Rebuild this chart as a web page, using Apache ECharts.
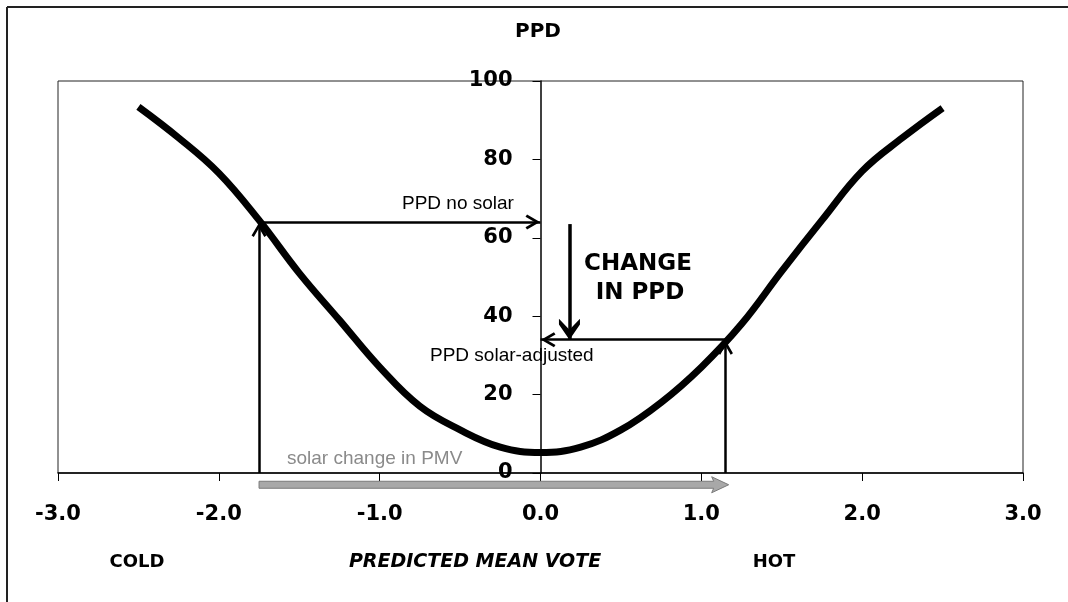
<!DOCTYPE html>
<html>
<head>
<meta charset="utf-8">
<script src="https://cdn.jsdelivr.net/npm/echarts@6/dist/echarts.min.js"></script>
<style>
  html, body { margin: 0; padding: 0; background: #fff; }
  #main { width: 1068px; height: 602px; }
</style>
</head>
<body>
<div id="main"></div>
<script>
// PMV -> PPD curve
var pmv = [-2.5, -2.25, -2, -1.75, -1.5, -1.25, -1, -0.75, -0.5, -0.25, 0, 0.25, 0.5, 0.75, 1, 1.25, 1.5, 1.75, 2, 2.25, 2.5];
var ppd = [93.4, 85.5, 76.5, 64.5, 51, 39, 27, 17, 11, 6.6, 5.2, 6.6, 11, 18, 27, 38, 51.5, 64.5, 77, 85.5, 93.1];

// annotation points [pmv, ppd]
var noSolar = [-1.75, 64];
var adjusted = [1.15, 34];
var changeArrow = [0.18, 63.5, 34];   // x, from, to
var solarShift = [-1.75, 1.17, -3];   // from x, to x, y (just below the axis)

var xTicks = { min: -3, max: 3, interval: 1 };
var yTicks = { min: 0, max: 100, interval: 20 };

var gridBox = { left: 58, right: 45, top: 81, bottom: 129 };
var plotWidth = 1068 - gridBox.left - gridBox.right;

var myChart = echarts.init(document.getElementById('main'));

// open V arrow heads, tip at the symbol centre
var openHead = 'path://M6,0 L12,10 L10.2,11.2 L6,4.2 L1.8,11.2 L0,10 Z M5.99,-12 L6.01,-12 L6,-11.99 Z';
var boldHead = 'path://M6,0 L12,9 L12,12.5 L6,6 L0,12.5 L0,9 Z M5.99,-12.5 L6.01,-12.5 L6,-12.49 Z';

function arrow(p1, p2, width, head, headSize) {
    return [
        { coord: p1, symbol: 'none', lineStyle: { width: width, color: '#000', type: 'solid' } },
        { coord: p2, symbol: head, symbolSize: headSize }
    ];
}

function label(id, x, y, text, font, color, align) {
    return { type: 'text', id: id, x: x, y: y, style: { text: text, fill: color || '#000', font: font, textAlign: align || 'center', textVerticalAlign: 'middle' } };
}

var curveData = pmv.map(function (v, i) { return [v, ppd[i]]; });

var baseFont = { color: '#000', fontFamily: 'DejaVu Sans', fontWeight: 'bold', fontSize: 21 };

var option = {
    backgroundColor: '#fff',
    animation: false,
    grid: {
        left: gridBox.left, right: gridBox.right, top: gridBox.top, bottom: gridBox.bottom,
        outerBoundsMode: 'none',
        containLabel: false,
        show: true,
        borderColor: '#222',
        borderWidth: 1
    },
    xAxis: {
        type: 'value',
        min: xTicks.min, max: xTicks.max, interval: xTicks.interval,
        axisLine: { onZero: false, lineStyle: { color: '#000', width: 1.5 } },
        axisTick: { show: true, length: 8, lineStyle: { color: '#000' } },
        splitLine: { show: false },
        axisLabel: Object.assign({ margin: 31, formatter: function (v) { return v.toFixed(1); } }, baseFont)
    },
    yAxis: {
        type: 'value',
        position: 'left',
        offset: -plotWidth / 2,   // axis sits on PMV = 0
        min: yTicks.min, max: yTicks.max, interval: yTicks.interval,
        axisLine: { show: true, onZero: false, lineStyle: { color: '#000', width: 1.5 } },
        axisTick: { show: true, length: 8, lineStyle: { color: '#000' } },
        splitLine: { show: false },
        axisLabel: Object.assign({ margin: 28 }, baseFont)
    },
    series: [
        {
            name: 'PPD',
            type: 'line',
            data: curveData,
            smooth: 0.4,
            symbol: 'none',
            lineStyle: { color: '#000', width: 7 },
            clip: false,
            markLine: {
                silent: true,
                animation: false,
                label: { show: false },
                data: [
                    arrow([noSolar[0], 0], noSolar, 2.5, openHead, [15, 30]),
                    arrow(noSolar, [0, noSolar[1]], 2.5, openHead, [15, 30]),
                    arrow([changeArrow[0], changeArrow[1]], [changeArrow[0], changeArrow[2]], 3.5, boldHead, [21, 42]),
                    arrow(adjusted, [0, adjusted[1]], 2.5, openHead, [15, 30]),
                    arrow([adjusted[0], 0], adjusted, 2.5, openHead, [15, 30])
                ]
            }
        }
    ],
    graphic: [
        // outer frame of the scanned figure
        { type: 'line', id: 'frameTop', shape: { x1: 7, y1: 7, x2: 1068, y2: 7 }, style: { stroke: '#222', lineWidth: 2 } },
        { type: 'line', id: 'frameLeft', shape: { x1: 7, y1: 7, x2: 7, y2: 602 }, style: { stroke: '#222', lineWidth: 2 } },
        label('title', 538, 32, 'PPD', 'bold 20px "DejaVu Sans"'),
        label('noSolar', 402, 204, 'PPD no solar', '19px "Liberation Sans"', '#000', 'left'),
        label('adjusted', 430, 356, 'PPD solar-adjusted', '19px "Liberation Sans"', '#000', 'left'),
        label('change1', 638, 264, 'CHANGE', 'bold 23px "DejaVu Sans"'),
        label('change2', 640, 293, 'IN PPD', 'bold 23px "DejaVu Sans"'),
        label('solar', 287, 459, 'solar change in PMV', '19px "Liberation Sans"', '#8a8a8a', 'left'),
        label('cold', 137, 562, 'COLD', 'bold 18px "DejaVu Sans"'),
        label('pmvName', 475, 562, 'PREDICTED MEAN VOTE', 'italic bold 19px "DejaVu Sans"'),
        label('hot', 774, 562, 'HOT', 'bold 18px "DejaVu Sans"')
    ]
};

myChart.setOption(option);

// grey "solar change in PMV" arrow lies below the axis, so place it through the grid's own scale
var p0 = myChart.convertToPixel({ gridIndex: 0 }, [solarShift[0], solarShift[2]]);
var p1 = myChart.convertToPixel({ gridIndex: 0 }, [solarShift[1], solarShift[2]]);
var headLen = 15, shaft = 3.5, head = 8;
option.graphic.push({
    type: 'polygon',
    id: 'solarArrow',
    shape: {
        points: [
            [p0[0], p0[1] - shaft], [p1[0] - headLen, p1[1] - shaft], [p1[0] - headLen - 2, p1[1] - head],
            [p1[0], p1[1]],
            [p1[0] - headLen - 2, p1[1] + head], [p1[0] - headLen, p1[1] + shaft], [p0[0], p0[1] + shaft]
        ]
    },
    style: { fill: '#a8a8a8', stroke: '#7a7a7a', lineWidth: 1 },
    z: 5
});
myChart.setOption({ graphic: option.graphic });
</script>
</body>
</html>
